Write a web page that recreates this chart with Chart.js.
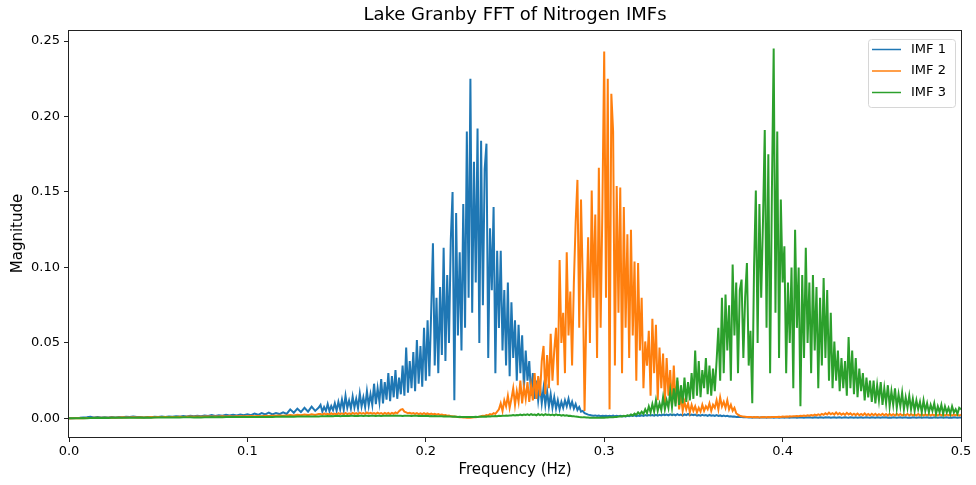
<!DOCTYPE html>
<html>
<head>
<meta charset="utf-8">
<script src="https://cdn.jsdelivr.net/npm/chart.js@4.4.1/dist/chart.umd.min.js"></script>
<style>
  html, body { margin: 0; padding: 0; background: #fff; }
  canvas { display: block; }
</style>
</head>
<body>
<canvas id="fftChart" width="976" height="485"></canvas>
<script>
// frequency grid: coarse bins up to 0.14 Hz, then 1 mHz bins up to 0.5 Hz
const LOW_STEP = 0.002;
const LOW_COUNT = 71;          // 0.000 .. 0.140
const DENSE_START = 0.141;
const DENSE_STEP = 0.001;      // 0.141 .. 0.500

const seriesLabels = ['IMF 1', 'IMF 2', 'IMF 3'];
const seriesColors = ['#1f77b4', '#ff7f0e', '#2ca02c'];
const xTicks = [0, 0.1, 0.2, 0.3, 0.4, 0.5];
const yTicks = [0, 0.05, 0.1, 0.15, 0.2, 0.25];

const imf1 = [
  // 0.000 - 0.140
  0.0001, 0.0002, 0.0003, 0.0004, 0.0006, 0.0008, 0.0011, 0.0007, 0.0009, 0.0006,
  0.0008, 0.0006, 0.0009, 0.0007, 0.0010, 0.0008, 0.0011, 0.0009, 0.0012, 0.0010,
  0.0009, 0.0007, 0.0010, 0.0008, 0.0011, 0.0009, 0.0012, 0.0010, 0.0013, 0.0011,
  0.0014, 0.0012, 0.0016, 0.0013, 0.0017, 0.0014, 0.0018, 0.0015, 0.0019, 0.0016,
  0.0022, 0.0017, 0.0021, 0.0018, 0.0024, 0.0019, 0.0025, 0.0020, 0.0026, 0.0021,
  0.0028, 0.0022, 0.0032, 0.0024, 0.0035, 0.0026, 0.0038, 0.0027, 0.0036, 0.0029,
  0.0041, 0.0030, 0.0060, 0.0038, 0.0065, 0.0042, 0.0070, 0.0045, 0.0078, 0.0050,
  0.0072,
  // 0.141 - 0.500
  0.0090, 0.0045, 0.0075, 0.0050, 0.0095, 0.0048, 0.0082, 0.0055, 0.0100, 0.0052,
  0.0110, 0.0060, 0.0125, 0.0058, 0.0150, 0.0070, 0.0118, 0.0065, 0.0145, 0.0072,
  0.0130, 0.0068, 0.0165, 0.0080, 0.0140, 0.0075, 0.0180, 0.0085, 0.0160, 0.0090,
  0.0230, 0.0095, 0.0200, 0.0110, 0.0260, 0.0100, 0.0240, 0.0125, 0.0300, 0.0115,
  0.0280, 0.0140, 0.0320, 0.0130, 0.0270, 0.0160, 0.0350, 0.0150, 0.0470, 0.0170,
  0.0380, 0.0200, 0.0440, 0.0180, 0.0520, 0.0230, 0.0480, 0.0210, 0.0600, 0.0250,
  0.0650, 0.0280, 0.0700, 0.1160, 0.0350, 0.0800, 0.0300, 0.0870, 0.0420, 0.1130,
  0.0380, 0.0950, 0.0500, 0.1180, 0.1500, 0.0120, 0.1360, 0.0550, 0.1100, 0.0450,
  0.1420, 0.0600, 0.1900, 0.0800, 0.2250, 0.0700, 0.1700, 0.0900, 0.1920, 0.0500,
  0.1840, 0.0750, 0.1650, 0.1820, 0.0400, 0.1260, 0.0850, 0.1400, 0.0300, 0.1110,
  0.0600, 0.1110, 0.0450, 0.0850, 0.0350, 0.0900, 0.0280, 0.0770, 0.0400, 0.0650,
  0.0250, 0.0620, 0.0300, 0.0550, 0.0200, 0.0450, 0.0250, 0.0380, 0.0150, 0.0300,
  0.0130, 0.0250, 0.0120, 0.0220, 0.0100, 0.0200, 0.0090, 0.0180, 0.0080, 0.0160,
  0.0070, 0.0140, 0.0065, 0.0120, 0.0060, 0.0110, 0.0070, 0.0120, 0.0080, 0.0130,
  0.0075, 0.0110, 0.0065, 0.0095, 0.0055, 0.0075, 0.0045, 0.0050, 0.0035, 0.0030,
  0.0025, 0.0022, 0.0020, 0.0018, 0.0020, 0.0016, 0.0019, 0.0015, 0.0018, 0.0016,
  0.0017, 0.0014, 0.0018, 0.0015, 0.0019, 0.0014, 0.0017, 0.0015, 0.0018, 0.0014,
  0.0016, 0.0013, 0.0018, 0.0015, 0.0019, 0.0016, 0.0020, 0.0015, 0.0019, 0.0016,
  0.0021, 0.0017, 0.0022, 0.0018, 0.0023, 0.0019, 0.0022, 0.0018, 0.0024, 0.0019,
  0.0024, 0.0020, 0.0026, 0.0021, 0.0025, 0.0020, 0.0027, 0.0022, 0.0026, 0.0021,
  0.0028, 0.0021, 0.0025, 0.0019, 0.0027, 0.0022, 0.0029, 0.0020, 0.0026, 0.0021,
  0.0025, 0.0019, 0.0023, 0.0018, 0.0024, 0.0019, 0.0022, 0.0017, 0.0023, 0.0018,
  0.0021, 0.0016, 0.0022, 0.0017, 0.0020, 0.0015, 0.0019, 0.0014, 0.0017, 0.0013,
  0.0015, 0.0012, 0.0013, 0.0010, 0.0011, 0.0009, 0.0010, 0.0008, 0.0009, 0.0007,
  0.0006, 0.0008, 0.0005, 0.0007, 0.0006, 0.0008, 0.0005, 0.0007, 0.0006, 0.0007,
  0.0005, 0.0007, 0.0006, 0.0008, 0.0005, 0.0006, 0.0007, 0.0005, 0.0006, 0.0008,
  0.0005, 0.0007, 0.0006, 0.0005, 0.0007, 0.0006, 0.0008, 0.0005, 0.0006, 0.0007,
  0.0006, 0.0005, 0.0007, 0.0006, 0.0008, 0.0006, 0.0005, 0.0007, 0.0006, 0.0005,
  0.0007, 0.0006, 0.0005, 0.0007, 0.0006, 0.0008, 0.0005, 0.0006, 0.0007, 0.0005,
  0.0006, 0.0007, 0.0005, 0.0006, 0.0008, 0.0006, 0.0005, 0.0007, 0.0006, 0.0005,
  0.0007, 0.0005, 0.0006, 0.0007, 0.0005, 0.0006, 0.0008, 0.0006, 0.0005, 0.0007,
  0.0006, 0.0005, 0.0007, 0.0006, 0.0005, 0.0007, 0.0006, 0.0008, 0.0005, 0.0006,
  0.0005, 0.0007, 0.0006, 0.0005, 0.0006, 0.0007, 0.0005, 0.0006, 0.0007, 0.0005,
  0.0006, 0.0005, 0.0007, 0.0006, 0.0005, 0.0006, 0.0007, 0.0005, 0.0006, 0.0006,
  0.0007, 0.0005, 0.0006, 0.0005, 0.0007, 0.0006, 0.0005, 0.0006, 0.0007, 0.0005,
  0.0006, 0.0007, 0.0005, 0.0006, 0.0005, 0.0007, 0.0006, 0.0005, 0.0006, 0.0006
];

const imf2 = [
  // 0.000 - 0.140
  0.0000, 0.0001, 0.0001, 0.0002, 0.0002, 0.0003, 0.0003, 0.0004, 0.0004, 0.0005,
  0.0004, 0.0005, 0.0006, 0.0005, 0.0006, 0.0007, 0.0006, 0.0007, 0.0008, 0.0007,
  0.0008, 0.0007, 0.0008, 0.0009, 0.0008, 0.0009, 0.0010, 0.0009, 0.0010, 0.0009,
  0.0010, 0.0011, 0.0010, 0.0011, 0.0012, 0.0011, 0.0012, 0.0011, 0.0012, 0.0013,
  0.0012, 0.0013, 0.0012, 0.0014, 0.0013, 0.0014, 0.0013, 0.0015, 0.0014, 0.0015,
  0.0014, 0.0016, 0.0015, 0.0016, 0.0015, 0.0017, 0.0016, 0.0018, 0.0017, 0.0019,
  0.0018, 0.0020, 0.0022, 0.0019, 0.0024, 0.0021, 0.0026, 0.0022, 0.0027, 0.0023,
  0.0029,
  // 0.141 - 0.500
  0.0030, 0.0024, 0.0033, 0.0026, 0.0031, 0.0025, 0.0034, 0.0027, 0.0032, 0.0026,
  0.0035, 0.0028, 0.0033, 0.0027, 0.0036, 0.0029, 0.0034, 0.0028, 0.0037, 0.0030,
  0.0035, 0.0029, 0.0038, 0.0031, 0.0036, 0.0030, 0.0039, 0.0032, 0.0037, 0.0031,
  0.0036, 0.0030, 0.0038, 0.0031, 0.0035, 0.0029, 0.0037, 0.0030, 0.0036, 0.0029,
  0.0037, 0.0031, 0.0040, 0.0034, 0.0048, 0.0058, 0.0062, 0.0045, 0.0040, 0.0034,
  0.0037, 0.0031, 0.0036, 0.0030, 0.0035, 0.0029, 0.0034, 0.0028, 0.0035, 0.0029,
  0.0033, 0.0027, 0.0032, 0.0026, 0.0030, 0.0025, 0.0029, 0.0023, 0.0026, 0.0021,
  0.0022, 0.0018, 0.0019, 0.0015, 0.0014, 0.0012, 0.0011, 0.0009, 0.0008, 0.0007,
  0.0006, 0.0006, 0.0005, 0.0006, 0.0005, 0.0006, 0.0007, 0.0008, 0.0010, 0.0012,
  0.0014, 0.0018, 0.0016, 0.0022, 0.0020, 0.0028, 0.0025, 0.0035, 0.0030, 0.0045,
  0.0060, 0.0100, 0.0050, 0.0120, 0.0080, 0.0150, 0.0070, 0.0130, 0.0200, 0.0090,
  0.0180, 0.0110, 0.0250, 0.0100, 0.0210, 0.0130, 0.0240, 0.0110, 0.0220, 0.0120,
  0.0300, 0.0130, 0.0280, 0.0150, 0.0380, 0.0480, 0.0160, 0.0420, 0.0200, 0.0560,
  0.0250, 0.0450, 0.0600, 0.0220, 0.1050, 0.0500, 0.0700, 0.0300, 0.1100, 0.0550,
  0.0840, 0.0350, 0.0900, 0.1300, 0.1580, 0.0600, 0.1450, 0.0900, 0.0050, 0.0700,
  0.1200, 0.0500, 0.1510, 0.0800, 0.1350, 0.0400, 0.1660, 0.0600, 0.1400, 0.2430,
  0.0800, 0.2250, 0.0060, 0.2150, 0.1900, 0.0350, 0.1540, 0.0700, 0.1530, 0.0300,
  0.1400, 0.0600, 0.1220, 0.0400, 0.1250, 0.0550, 0.1040, 0.0250, 0.1030, 0.0450,
  0.0800, 0.0200, 0.0510, 0.0350, 0.0580, 0.0150, 0.0660, 0.0300, 0.0620, 0.0120,
  0.0470, 0.0200, 0.0430, 0.0100, 0.0400, 0.0150, 0.0320, 0.0080, 0.0350, 0.0100,
  0.0250, 0.0060, 0.0150, 0.0050, 0.0110, 0.0060, 0.0100, 0.0040, 0.0090, 0.0050,
  0.0080, 0.0040, 0.0070, 0.0045, 0.0090, 0.0050, 0.0080, 0.0060, 0.0100, 0.0050,
  0.0090, 0.0070, 0.0120, 0.0060, 0.0140, 0.0080, 0.0110, 0.0070, 0.0120, 0.0060,
  0.0090, 0.0050, 0.0070, 0.0035, 0.0025, 0.0018, 0.0015, 0.0012, 0.0011, 0.0010,
  0.0009, 0.0010, 0.0008, 0.0009, 0.0008, 0.0009, 0.0007, 0.0008, 0.0009, 0.0008,
  0.0008, 0.0009, 0.0008, 0.0010, 0.0009, 0.0010, 0.0009, 0.0011, 0.0010, 0.0012,
  0.0011, 0.0013, 0.0012, 0.0014, 0.0013, 0.0015, 0.0014, 0.0016, 0.0015, 0.0018,
  0.0016, 0.0019, 0.0017, 0.0021, 0.0018, 0.0023, 0.0019, 0.0025, 0.0020, 0.0027,
  0.0022, 0.0030, 0.0024, 0.0034, 0.0026, 0.0038, 0.0028, 0.0035, 0.0026, 0.0040,
  0.0027, 0.0036, 0.0025, 0.0033, 0.0024, 0.0037, 0.0026, 0.0034, 0.0023, 0.0031,
  0.0022, 0.0032, 0.0021, 0.0030, 0.0022, 0.0033, 0.0021, 0.0029, 0.0020, 0.0031,
  0.0021, 0.0030, 0.0020, 0.0028, 0.0021, 0.0031, 0.0020, 0.0029, 0.0019, 0.0030,
  0.0020, 0.0028, 0.0019, 0.0030, 0.0021, 0.0029, 0.0019, 0.0027, 0.0020, 0.0029,
  0.0019, 0.0028, 0.0020, 0.0027, 0.0019, 0.0029, 0.0020, 0.0028, 0.0019, 0.0027,
  0.0020, 0.0028, 0.0019, 0.0026, 0.0020, 0.0027, 0.0019, 0.0028, 0.0020, 0.0026,
  0.0019, 0.0027, 0.0020, 0.0025, 0.0019, 0.0026, 0.0020, 0.0025, 0.0019, 0.0025
];

const imf3 = [
  // 0.000 - 0.140
  0.0001, 0.0001, 0.0002, 0.0002, 0.0003, 0.0002, 0.0003, 0.0003, 0.0004, 0.0003,
  0.0004, 0.0003, 0.0004, 0.0004, 0.0005, 0.0004, 0.0005, 0.0004, 0.0005, 0.0005,
  0.0006, 0.0005, 0.0006, 0.0005, 0.0006, 0.0006, 0.0007, 0.0006, 0.0007, 0.0006,
  0.0007, 0.0006, 0.0007, 0.0007, 0.0008, 0.0007, 0.0008, 0.0007, 0.0008, 0.0008,
  0.0009, 0.0008, 0.0009, 0.0008, 0.0009, 0.0009, 0.0010, 0.0009, 0.0010, 0.0009,
  0.0010, 0.0009, 0.0010, 0.0010, 0.0011, 0.0010, 0.0011, 0.0010, 0.0011, 0.0011,
  0.0012, 0.0011, 0.0012, 0.0011, 0.0012, 0.0012, 0.0013, 0.0012, 0.0013, 0.0012,
  0.0013,
  // 0.141 - 0.500
  0.0015, 0.0014, 0.0015, 0.0015, 0.0016, 0.0015, 0.0016, 0.0015, 0.0016, 0.0016,
  0.0017, 0.0015, 0.0016, 0.0017, 0.0016, 0.0018, 0.0016, 0.0017, 0.0018, 0.0016,
  0.0017, 0.0016, 0.0018, 0.0017, 0.0016, 0.0018, 0.0017, 0.0016, 0.0018, 0.0017,
  0.0018, 0.0016, 0.0017, 0.0018, 0.0016, 0.0017, 0.0018, 0.0017, 0.0019, 0.0017,
  0.0018, 0.0017, 0.0019, 0.0018, 0.0017, 0.0018, 0.0016, 0.0017, 0.0018, 0.0017,
  0.0018, 0.0016, 0.0017, 0.0018, 0.0017, 0.0016, 0.0017, 0.0016, 0.0017, 0.0016,
  0.0017, 0.0015, 0.0016, 0.0015, 0.0016, 0.0014, 0.0015, 0.0014, 0.0015, 0.0013,
  0.0014, 0.0013, 0.0012, 0.0013, 0.0011, 0.0012, 0.0011, 0.0010, 0.0011, 0.0010,
  0.0009, 0.0010, 0.0009, 0.0010, 0.0009, 0.0010, 0.0009, 0.0011, 0.0010, 0.0011,
  0.0012, 0.0011, 0.0013, 0.0012, 0.0014, 0.0013, 0.0015, 0.0014, 0.0016, 0.0015,
  0.0017, 0.0016, 0.0018, 0.0017, 0.0019, 0.0018, 0.0020, 0.0019, 0.0022, 0.0020,
  0.0023, 0.0021, 0.0025, 0.0022, 0.0026, 0.0023, 0.0027, 0.0022, 0.0028, 0.0023,
  0.0026, 0.0021, 0.0029, 0.0022, 0.0027, 0.0021, 0.0028, 0.0023, 0.0026, 0.0021,
  0.0025, 0.0020, 0.0027, 0.0021, 0.0024, 0.0019, 0.0023, 0.0018, 0.0021, 0.0017,
  0.0018, 0.0015, 0.0014, 0.0012, 0.0011, 0.0009, 0.0008, 0.0007, 0.0007, 0.0006,
  0.0006, 0.0005, 0.0005, 0.0005, 0.0004, 0.0005, 0.0005, 0.0005, 0.0006, 0.0005,
  0.0006, 0.0006, 0.0007, 0.0007, 0.0008, 0.0009, 0.0010, 0.0012, 0.0014, 0.0013,
  0.0017, 0.0015, 0.0021, 0.0018, 0.0026, 0.0020, 0.0032, 0.0024, 0.0040, 0.0028,
  0.0045, 0.0030, 0.0060, 0.0035, 0.0080, 0.0040, 0.0095, 0.0045, 0.0120, 0.0050,
  0.0100, 0.0055, 0.0140, 0.0060, 0.0120, 0.0070, 0.0180, 0.0075, 0.0200, 0.0080,
  0.0270, 0.0090, 0.0220, 0.0100, 0.0270, 0.0110, 0.0240, 0.0120, 0.0300, 0.0130,
  0.0450, 0.0150, 0.0380, 0.0140, 0.0320, 0.0200, 0.0400, 0.0160, 0.0350, 0.0150,
  0.0330, 0.0180, 0.0380, 0.0600, 0.0250, 0.0800, 0.0300, 0.0820, 0.0450, 0.0750,
  0.0250, 0.1020, 0.0550, 0.0900, 0.0300, 0.0850, 0.0920, 0.0400, 0.0800, 0.1030,
  0.0350, 0.0580, 0.0100, 0.1000, 0.1510, 0.0500, 0.1420, 0.0800, 0.1300, 0.1910,
  0.0600, 0.1750, 0.0300, 0.1500, 0.2450, 0.0700, 0.1900, 0.0400, 0.1450, 0.0900,
  0.1140, 0.0300, 0.0900, 0.0500, 0.1000, 0.0200, 0.1250, 0.0600, 0.1000, 0.0080,
  0.0950, 0.0400, 0.1130, 0.0500, 0.0900, 0.0300, 0.0950, 0.0450, 0.0870, 0.0200,
  0.0800, 0.0350, 0.0930, 0.0400, 0.0850, 0.0250, 0.0700, 0.0200, 0.0510, 0.0250,
  0.0450, 0.0180, 0.0400, 0.0200, 0.0380, 0.0150, 0.0540, 0.0200, 0.0450, 0.0160,
  0.0400, 0.0140, 0.0330, 0.0180, 0.0300, 0.0120, 0.0270, 0.0140, 0.0250, 0.0110,
  0.0250, 0.0100, 0.0220, 0.0120, 0.0240, 0.0090, 0.0200, 0.0100, 0.0220, 0.0080,
  0.0180, 0.0090, 0.0200, 0.0070, 0.0160, 0.0080, 0.0170, 0.0060, 0.0140, 0.0070,
  0.0150, 0.0060, 0.0130, 0.0050, 0.0120, 0.0060, 0.0110, 0.0040, 0.0120, 0.0050,
  0.0100, 0.0040, 0.0090, 0.0050, 0.0100, 0.0030, 0.0080, 0.0040, 0.0090, 0.0030,
  0.0080, 0.0040, 0.0070, 0.0030, 0.0080, 0.0040, 0.0060, 0.0030, 0.0070, 0.0060
];

const seriesValues = [imf1, imf2, imf3];
const FONT = '"DejaVu Sans", sans-serif';

function binFreq(i) {
  if (i < LOW_COUNT) return i * LOW_STEP;
  return DENSE_START + (i - LOW_COUNT) * DENSE_STEP;
}

function toPoints(values) {
  return values.map((v, i) => ({ x: binFreq(i), y: v }));
}

// matplotlib-style box around the axes
const framePlugin = {
  id: 'frame',
  afterDraw(chart) {
    const { ctx, chartArea: a } = chart;
    ctx.save();
    ctx.strokeStyle = '#222';
    ctx.lineWidth = 1;
    ctx.strokeRect(Math.round(a.left) - 0.5, Math.round(a.top) + 0.5,
                   Math.round(a.width) + 1, Math.round(a.height));
    ctx.restore();
  }
};

// legend drawn inside the upper right corner of the plot
const insideLegend = {
  id: 'insideLegend',
  afterDraw(chart) {
    const { ctx, chartArea: a } = chart;
    const w = 87, h = 68;
    const x0 = a.right - 6 - w, y0 = a.top + 9;
    ctx.save();
    ctx.beginPath();
    ctx.roundRect(x0 + 0.5, y0 + 0.5, w, h, 3);
    ctx.fillStyle = 'rgba(255,255,255,0.8)';
    ctx.fill();
    ctx.strokeStyle = '#d6d6d6';
    ctx.lineWidth = 1;
    ctx.stroke();
    ctx.font = '13px ' + FONT;
    ctx.textBaseline = 'middle';
    chart.data.datasets.forEach((ds, i) => {
      const y = y0 + 10.5 + i * 21.5;
      ctx.strokeStyle = ds.borderColor;
      ctx.lineWidth = 1.5;
      ctx.beginPath();
      ctx.moveTo(x0 + 4, y);
      ctx.lineTo(x0 + 33, y);
      ctx.stroke();
      ctx.fillStyle = '#000';
      ctx.fillText(ds.label, x0 + 43, y);
    });
    ctx.restore();
  }
};

const datasets = seriesValues.map((vals, i) => ({
  label: seriesLabels[i],
  data: toPoints(vals),
  borderColor: seriesColors[i],
  backgroundColor: seriesColors[i],
  borderWidth: 2,
  pointRadius: 0,
  tension: 0,
  fill: false,
  order: seriesValues.length - i
}));

new Chart(document.getElementById('fftChart'), {
  type: 'line',
  data: { datasets },
  options: {
    responsive: false,
    animation: false,
    devicePixelRatio: 1,
    layout: { padding: { left: 0, right: 15, top: 0, bottom: 0 } },
    plugins: {
      legend: { display: false },
      tooltip: { enabled: false },
      title: {
        display: true,
        text: 'Lake Granby FFT of Nitrogen IMFs',
        color: '#000',
        fullSize: false,
        font: { family: FONT, size: 18, weight: 'normal' },
        padding: { top: 5, bottom: 3.4 }
      }
    },
    scales: {
      x: {
        type: 'linear',
        min: 0,
        max: 0.5,
        afterBuildTicks: s => { s.ticks = xTicks.map(v => ({ value: v })); },
        afterFit: s => { s.height = 48; },
        ticks: {
          callback: v => v.toFixed(1),
          color: '#000',
          font: { family: FONT, size: 13 },
          padding: 2,
          maxRotation: 0,
          autoSkip: false
        },
        grid: { drawOnChartArea: false, tickLength: 5, color: '#222' },
        border: { display: false },
        title: {
          display: true,
          text: 'Frequency (Hz)',
          color: '#000',
          font: { family: FONT, size: 15 },
          padding: { top: 0, bottom: 6 }
        }
      },
      y: {
        min: -0.0123,
        max: 0.2573,
        afterBuildTicks: s => { s.ticks = yTicks.map(v => ({ value: v })); },
        afterFit: s => { s.width = 69; },
        ticks: {
          callback: v => v.toFixed(2),
          color: '#000',
          font: { family: FONT, size: 13 },
          padding: 4
        },
        grid: { drawOnChartArea: false, tickLength: 5, color: '#222' },
        border: { display: false },
        title: {
          display: true,
          text: 'Magnitude',
          color: '#000',
          font: { family: FONT, size: 15 },
          padding: { top: 9, bottom: 0 }
        }
      }
    }
  },
  plugins: [framePlugin, insideLegend]
});
</script>
</body>
</html>
